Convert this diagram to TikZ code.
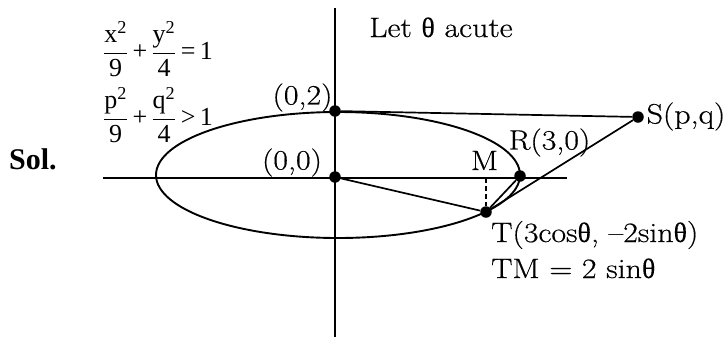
\documentclass[tikz,border=0pt]{standalone}
\usepackage{fontspec}
\usepackage{amsmath}
\usetikzlibrary{positioning}
\newfontfamily\eqfont{Liberation Serif}
\newfontfamily\grfont{Liberation Serif}[FakeBold=0.2]
\newfontfamily\lblfont{Latin Modern Roman}[FakeStretch=1.14,FakeBold=0.5]
\newcommand{\thet}{{\grfont θ}}
\newcommand{\fr}[2]{\genfrac{}{}{0.9pt}{0}{\mbox{#1}}{\mbox{#2}}}
\tikzset{
  axisline/.style={line width=1.9pt},
  conic/.style={line width=1.9pt},
  seg/.style={line width=1.7pt},
  drop/.style={line width=1.4pt,dash pattern=on 5pt off 3pt},
  dot/.style={circle,fill=black,inner sep=0pt,minimum size=11.5pt},
  lbl/.style={inner sep=0pt,font=\lblfont\fontsize{28}{32}\selectfont},
  eqn/.style={inner sep=0pt,anchor=west,font=\eqfont\fontsize{26}{30}\selectfont},
}

\begin{document}
\begin{tikzpicture}[x=1pt,y=-1pt]
    \useasboundingbox (0,0) rectangle (728,338);
    % --- axes and ellipse x^2/9 + y^2/4 = 1 ---
    \coordinate (xl) at (103,178);
    \coordinate (xr) at (567,178);
    \coordinate (yt) at (335,8);
    \coordinate (yb) at (335,337);
    \coordinate (ctr) at (338,175);
    \draw[axisline] (xl) -- (xr);
    \draw[axisline] (yt) -- (yb);
    \draw[conic] (ctr) ellipse [x radius=182, y radius=63];
    % --- points ---
    \node[dot] (O) at (335,177) {};
    \node[dot] (B) at (335,111) {};
    \node[dot] (S) at (638,117) {};
    \node[dot] (R) at (520,176) {};
    \node[dot] (T) at (486,212) {};
    \coordinate (M) at (486,178);
    % --- segments ---
    \draw[seg] (B) -- (S);
    \draw[seg] (O) -- (T);
    \draw[seg] (T) -- (S);
    \draw[seg] (T) -- (R);
    \draw[drop] (M) -- (T);
    % --- labels ---
    \node[lbl,anchor=base west] (acute) at (369,37) {Let \thet\ acute};
    \node[lbl] (Blab) at (302.5,97.5) {(0,2)};
    \node[lbl] (Olab) at (292,162.5) {(0,0)};
    \node[lbl] (Rlab) at (549.5,142.5) {R(3,0)};
    \node[lbl] (Slab) at (686,116.5) {S(p,q)};
    \node[lbl,anchor=base] (Mlab) at (484.5,170) {M};
    \node[lbl,anchor=base west] (Tlab) at (491,242) {T(3cos\thet, –2sin\thet)};
    \node[lbl,anchor=base west] (TMlab) at (491,278) {TM = 2 sin\thet};
    \node[inner sep=0pt,anchor=base west,font=\eqfont\bfseries\fontsize{30}{34}\selectfont] (sol) at (9,169) {Sol.};
    % --- ellipse and condition on S ---
    \node[eqn] (eq1) at (103,49) {$\fr{x\textsuperscript{2}}{9}\mbox{\,+\,}\fr{y\textsuperscript{2}}{4}\mbox{\,=\,1}$};
    \node[eqn] (eq2) at (103,115) {$\fr{p\textsuperscript{2}}{9}\mbox{\,+\,}\fr{q\textsuperscript{2}}{4}\mbox{\,{>}\,1}$};
\end{tikzpicture}
\end{document}
